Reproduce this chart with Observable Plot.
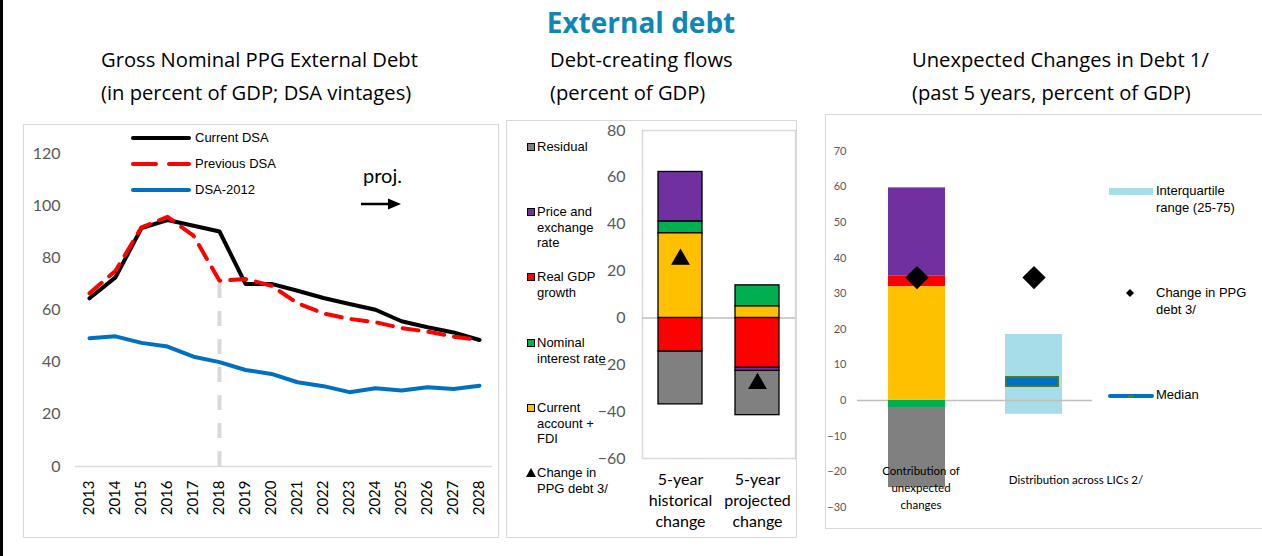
<!DOCTYPE html>
<html><head><meta charset="utf-8">
<script src="https://cdn.jsdelivr.net/npm/d3@7"></script>
<script src="https://cdn.jsdelivr.net/npm/@observablehq/plot@0.6"></script>
<style>
html,body{margin:0;padding:0;background:#fff;}
#root{position:relative;width:1262px;height:556px;overflow:hidden;background:#fff;font-family:Lato,sans-serif;}
#root > *{position:absolute;}
.box{border:1.5px solid #d9d9d9;box-sizing:border-box;}
.sub{font-family:"Open Sans",sans-serif;font-size:20.2px;line-height:33px;color:#000;white-space:nowrap;}
.lg{font-family:"Liberation Sans",Arial,sans-serif;font-size:13px;line-height:15.5px;color:#000;white-space:nowrap;}
.lg2{font-family:"Liberation Sans",Arial,sans-serif;font-size:13px;line-height:16.5px;color:#000;white-space:nowrap;}
</style></head>
<body><div id="root"></div>
<script>
// ---------- DATA ----------
const years = [2013,2014,2015,2016,2017,2018,2019,2020,2021,2022,2023,2024,2025,2026,2027,2028];
const currentDSA  = [64.5,72.5,91.4,94.5,92.3,90.1,70.0,70.0,67.4,64.6,62.3,60.1,55.7,53.4,51.4,48.5];
const previousDSA = [66.4,75.0,91.7,95.7,88.5,71.2,71.9,69.3,62.6,58.7,56.6,55.3,53.1,51.7,49.8,48.5];
const dsa2012     = [49.2,49.9,47.4,46.0,42.1,40.0,37.0,35.5,32.3,30.8,28.5,30.0,29.1,30.4,29.7,31.0];
const seriesNames = ["Current DSA","Previous DSA","DSA-2012"];
const projStart = 2018;
const projMarkerTop = 71;
const leftTicks = [0,20,40,60,80,100,120];

const components = ["Residual","Price and exchange rate","Real GDP growth","Nominal interest rate","Current account + FDI"];
const componentColors = ["#808080","#7030a0","#ff0000","#00b050","#ffc000"];
const stackOrder = ["Current account + FDI","Nominal interest rate","Real GDP growth","Price and exchange rate","Residual"];
const flowCategories = ["5-year historical change","5-year projected change"];
const flowLabels = ["5-year\nhistorical\nchange","5-year\nprojected\nchange"];
const historicalFlows = [-22.6, 21.2, -14.3, 5.0, 36.1];
const projectedFlows  = [-18.9, -1.4, -21.2, 9.0, 4.9];
const flowDebtChange = [25, -28];
const flowTicks = [-60,-40,-20,0,20,40,60,80];
const flowLegend = [["Residual"],["Price and","exchange","rate"],["Real GDP","growth"],["Nominal","interest rate"],["Current","account +","FDI"]];

const unexpCategories = ["Contribution of unexpected changes","Distribution across LICs 2/"];
const unexpLabels = ["Contribution of\nunexpected\nchanges","Distribution across LICs 2/"];
const unexpContrib = [-22.5, 24.7, 3.1, -2.0, 31.9];
const unexpDebtChange = [34.5, 34.5];
const licIQR = [-3.9, 18.5];
const licMedian = 5.3;
const unexpTicks = [-30,-20,-10,0,10,20,30,40,50,60,70];

// ---------- HELPERS ----------
const root = document.getElementById("root");
function add(html, style, cls) {
  const d = document.createElement("div");
  if (cls) d.className = cls;
  d.innerHTML = html;
  Object.assign(d.style, style);
  root.appendChild(d);
  return d;
}
function place(node, left, top) {
  node.style.position = "absolute";
  node.style.left = left + "px";
  node.style.top = top + "px";
  root.appendChild(node);
}

// frame & title
add("", {left:"0px", top:"0px", width:"3px", height:"556px", background:"#000"});
add("External debt", {left:"341px", top:"2px", width:"600px", textAlign:"center", fontFamily:"'Open Sans',sans-serif", fontWeight:"700", fontSize:"28px", lineHeight:"40px", color:"#0e86b7"});
add("Gross Nominal PPG External Debt<br>(in percent of GDP; DSA vintages)", {left:"101px", top:"43px"}, "sub");
add("Debt-creating flows<br>(percent of GDP)", {left:"550px", top:"43px"}, "sub");
add("Unexpected Changes in Debt 1/<br>(past 5 years, percent of GDP)", {left:"912px", top:"43px"}, "sub");

add("", {left:"23px", top:"124px", width:"476px", height:"414px"}, "box");
add("", {left:"506px", top:"120px", width:"291px", height:"418px"}, "box");
add("", {left:"825px", top:"114px", width:"440px", height:"415px"}, "box");

// ---------- LEFT PANEL ----------
const leftRows = years.map((y,i)=>({year:y, current:currentDSA[i], previous:previousDSA[i], old:dsa2012[i]}));
const leftPlot = Plot.plot({
  width: 475, height: 413, marginLeft: 52, marginRight: 6, marginTop: 29, marginBottom: 71,
  style: {fontFamily: "Lato, sans-serif", background: "transparent", overflow: "visible"},
  x: {type: "point", domain: years, padding: 0.5, label: null},
  y: {domain: [0,120], label: null},
  marks: [
    Plot.ruleY([0], {stroke:"#d9d9d9", strokeWidth:1.5}),
    Plot.ruleX([projStart], {y1: 0, y2: projMarkerTop, stroke:"#d9d9d9", strokeWidth:4, strokeDasharray:"15,13"}),
    Plot.line(leftRows, {x:"year", y:"current", stroke:"#000", strokeWidth:4}),
    Plot.line(leftRows, {x:"year", y:"previous", stroke:"#ff0000", strokeWidth:4, strokeDasharray:"16,10"}),
    Plot.line(leftRows, {x:"year", y:"old", stroke:"#0070c0", strokeWidth:4}),
    Plot.axisY({ticks: leftTicks, tickSize:0, tickPadding:15, fontSize:16, color:"#595959"}),
    Plot.axisX({tickSize:0, tickPadding:14, tickRotate:-90, fontSize:15, color:"#000", tickFormat: d=>String(d)})
  ]
});
place(leftPlot, 23, 124);

// left legend
const legStyles = [{stroke:"#000", dash:""},{stroke:"#ff0000", dash:"23,13"},{stroke:"#0070c0", dash:""}];
[138,164,190].forEach((cy,i)=>{
  add(`<svg width="60" height="8"><line x1="2" y1="4" x2="58" y2="4" stroke="${legStyles[i].stroke}" stroke-width="4" stroke-linecap="round" stroke-dasharray="${legStyles[i].dash}"/></svg>`,
      {left:"131px", top:(cy-4)+"px", lineHeight:"0"});
  add(seriesNames[i], {left:"195px", top:(cy-8)+"px"}, "lg");
});
add("proj.", {left:"363px", top:"161px", fontFamily:"Lato,sans-serif", fontSize:"20px", lineHeight:"28px"});
add(`<svg width="44" height="14"><line x1="1" y1="7" x2="30" y2="7" stroke="#000" stroke-width="2.5"/><polygon points="28,1.5 41,7 28,12.5" fill="#000"/></svg>`,
    {left:"360px", top:"197px", lineHeight:"0"});

// ---------- MIDDLE PANEL ----------
const flowRows = [];
flowCategories.forEach((c,ci)=>components.forEach((k,ki)=>flowRows.push({cat:c, component:k, value:[historicalFlows,projectedFlows][ci][ki]})));
const midPlot = Plot.plot({
  width: 290, height: 417, marginLeft: 136, marginRight: 1, marginTop: 10, marginBottom: 79,
  style: {fontFamily: "Lato, sans-serif", background: "transparent", overflow: "visible"},
  x: {domain: flowCategories, paddingInner: 0.43, paddingOuter: 0.2, label: null},
  y: {domain: [-60,80], label: null},
  color: {domain: components, range: componentColors},
  marks: [
    Plot.frame({stroke:"#d9d9d9", strokeWidth:1.5}),
    Plot.ruleY([0], {stroke:"#bfbfbf", strokeWidth:1.5}),
    Plot.barY(flowRows, {x:"cat", y:"value", fill:"component", z:"component", order: stackOrder, stroke:"#000", strokeWidth:1.3}),
    Plot.dot(flowCategories, {x:d=>d, y:(d,i)=>flowDebtChange[i], symbol:"triangle", r:7, fill:"#000"}),
    Plot.axisY({ticks: flowTicks, tickSize:0, tickPadding:17, fontSize:16, color:"#595959"}),
    Plot.axisX({tickSize:0, tickPadding:12, fontSize:16, lineHeight:1.3, color:"#000", tickFormat: d=>flowLabels[flowCategories.indexOf(d)]})
  ]
});
place(midPlot, 506, 120);

// middle legend
const midLegendY = [147,212,277,343,408];
flowLegend.forEach((lines,i)=>{
  add("", {left:"527px", top:(midLegendY[i]-4)+"px", width:"8px", height:"8px", boxSizing:"border-box", border:"1px solid #000", background: componentColors[i]});
  add(lines.join("<br>"), {left:"537px", top:(midLegendY[i]-8)+"px"}, "lg");
});
add(`<svg width="10" height="9"><polygon points="5,0 10,9 0,9" fill="#000"/></svg>`, {left:"526px", top:"468px", lineHeight:"0"});
add("Change in<br>PPG debt 3/", {left:"537px", top:"465px"}, "lg");

// ---------- RIGHT PANEL ----------
const unexpRows = components.map((k,ki)=>({cat:unexpCategories[0], component:k, value:unexpContrib[ki]}));
const rightPlot = Plot.plot({
  width: 437, height: 414, marginLeft: 32, marginRight: 170, marginTop: 36.7, marginBottom: 21.3,
  style: {fontFamily: "Lato, sans-serif", background: "transparent", overflow: "visible"},
  x: {domain: unexpCategories, paddingInner: 0.515, paddingOuter: 0.255, axis: null},
  y: {domain: [-30,70], label: null},
  color: {domain: components, range: componentColors},
  marks: [
    Plot.barY([licIQR], {x:()=>unexpCategories[1], y1:d=>d[0], y2:d=>d[1], fill:"#a6dde8"}),
    Plot.ruleY([0], {stroke:"#bfbfbf", strokeWidth:1.5}),
    Plot.barY(unexpRows, {x:"cat", y:"value", fill:"component", z:"component", order: stackOrder}),
    Plot.tickY([licMedian], {x:()=>unexpCategories[1], y:d=>d, stroke:"#4f7a2a", strokeWidth:11, insetRight:3}),
    Plot.tickY([licMedian], {x:()=>unexpCategories[1], y:d=>d, stroke:"#0070c0", strokeWidth:7.5, insetLeft:1.5, insetRight:4.5}),
    Plot.dot(unexpCategories, {x:d=>d, y:(d,i)=>unexpDebtChange[i], symbol:"diamond2", r:10.5, fill:"#000"}),
    Plot.text([unexpLabels[0]], {x:()=>unexpCategories[0], text:d=>d, frameAnchor:"bottom", dy:-20.7, dx:4, lineAnchor:"middle", fontSize:11.5, lineHeight:1.45, fill:"#000"}),
    Plot.text([unexpLabels[1]], {x:()=>unexpCategories[1], text:d=>d, frameAnchor:"bottom", dy:-27, dx:42, lineAnchor:"middle", fontSize:11.5, fill:"#000"}),
    Plot.axisY({ticks: unexpTicks, tickSize:0, tickPadding:11, fontSize:11, color:"#595959"})
  ]
});
place(rightPlot, 825, 114);

// right legend
add(`<svg width="44" height="7"><rect x="0" y="0" width="44" height="7" fill="#a6dde8"/></svg>`, {left:"1109px", top:"188px", lineHeight:"0"});
add("Interquartile<br>range (25-75)", {left:"1156px", top:"183px"}, "lg2");
add(`<svg width="8" height="8"><polygon points="4,0 8,4 4,8 0,4" fill="#000"/></svg>`, {left:"1126px", top:"289px", lineHeight:"0"});
add("Change in PPG<br>debt 3/", {left:"1156px", top:"285px"}, "lg2");
add(`<svg width="46" height="6"><line x1="2" y1="3" x2="44" y2="3" stroke="#0070c0" stroke-width="4" stroke-linecap="round"/><rect x="20" y="2" width="6" height="3" fill="#4f7a2a"/></svg>`, {left:"1108px", top:"393px", lineHeight:"0"});
add("Median", {left:"1156px", top:"387px"}, "lg2");
</script>
</body></html>
